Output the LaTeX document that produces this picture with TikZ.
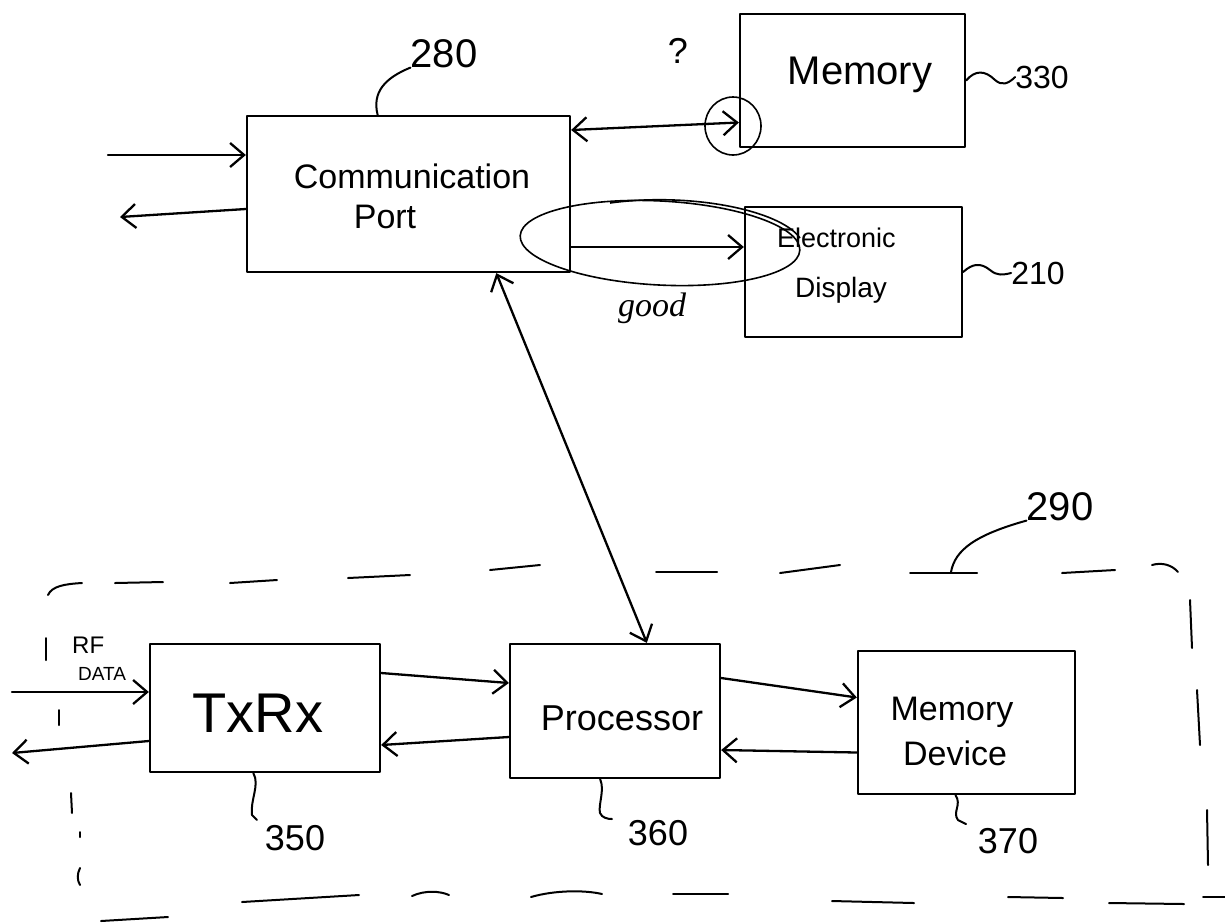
\documentclass[tikz,border=0pt]{standalone}
\usepackage{fontspec}
\setmainfont{Liberation Sans}
\newfontfamily\scrib{Liberation Serif}
\usetikzlibrary{arrows.meta,calc}
\begin{document}
\begin{tikzpicture}[x=1pt,y=-1pt,
  ink/.style={line width=2.3pt, line cap=round, line join=round},
  blk/.style={draw, ink, rectangle, inner sep=0pt},
  arr/.style={ink, -{Straight Barb[length=14pt,width=24pt]}},
  darr/.style={ink, {Straight Barb[length=14pt,width=24pt]}-{Straight Barb[length=14pt,width=24pt]}},
  txt/.style={inner sep=0pt, font=\fontsize{#1}{#1}\selectfont},
  lead/.style={line width=2pt, line cap=round},
  dashpiece/.style={line width=2pt, line cap=round},
  note/.style={line width=1.6pt}]
\useasboundingbox (0,0) rectangle (1225,922);

% ---------- blocks ----------
\node[blk, minimum width=323pt, minimum height=156pt] (comm)   at (408.5,194) {};
\node[blk, minimum width=225pt, minimum height=133pt] (mem)    at (852.5,80.5) {};
\node[blk, minimum width=217pt, minimum height=130pt] (disp)   at (853.5,272) {};
\node[blk, minimum width=230pt, minimum height=128pt] (txrx)   at (265,708) {};
\node[blk, minimum width=210pt, minimum height=134pt] (proc)   at (615,711) {};
\node[blk, minimum width=217pt, minimum height=143pt] (memdev) at (966.5,722.5) {};

% ---------- block texts ----------
\node[txt=34, anchor=base] (tcomm) at (412,188) {Communication};
\node[txt=34, anchor=base] (tport) at (385,228) {Port};
\node[txt=40, anchor=base] (tmem)  at (860,84) {Memory};
\node[txt=27, anchor=base west] (tel) at (777,247) {Electronic};
\node[txt=28, anchor=base west] (tdi) at (795,297) {Display};
\node[txt=56, anchor=base] (ttx) at (258,732) {TxRx};
\node[txt=36, anchor=base] (tproc) at (622,730) {Processor};
\node[txt=34, anchor=base] (tmd1) at (952,720) {Memory};
\node[txt=34, anchor=base] (tmd2) at (955,765) {Device};

% ---------- reference numerals ----------
\node[txt=40, anchor=base] (l280) at (444,67) {280};
\node[txt=32, anchor=base] (l330) at (1042,88) {330};
\node[txt=32, anchor=base] (l210) at (1038,284) {210};
\node[txt=40, anchor=base] (l290) at (1060,520) {290};
\node[txt=36, anchor=base] (l350) at (295,850) {350};
\node[txt=36, anchor=base] (l360) at (658,845) {360};
\node[txt=36, anchor=base] (l370) at (1008,853) {370};
\node[txt=36, anchor=base] (qm) at (678,63) {?};
\node[txt=24, anchor=base west] (rf) at (72,653) {RF};
\node[txt=19, anchor=base west] (data) at (78,680) {DATA};
\node[inner sep=0pt, font=\scrib\itshape\fontsize{34}{34}\selectfont] (good) at (652,308) {good};

% ---------- leaders ----------
\draw[lead] ($(comm.north west)!0.405!(comm.north east)$) .. controls (372,92) and (385,78) .. (l280.south west);
\draw[lead] (mem.east) .. controls (975,70) and (985,70) .. (995,80) .. controls (1002,86) and (1008,84) .. (l330.west);
\draw[lead] (disp.east) .. controls (972,264) and (980,262) .. (990,270) .. controls (997,276) and (1003,275) .. (l210.west);
\draw[lead] ($(txrx.south west)!0.45!(txrx.south east)$) .. controls (260,785) and (250,800) .. (252,815) -- (257,820);
\draw[lead] ($(proc.south west)!0.43!(proc.south east)$) .. controls (605,790) and (598,805) .. (600,813) .. controls (602,818) and (608,819) .. (612,819);
\draw[lead] ($(memdev.south west)!0.45!(memdev.south east)$) .. controls (962,805) and (952,812) .. (958,820) -- (966,824);
\draw[lead] (951,572) .. controls (955,550) and (975,535) .. (l290.south west);

% ---------- connectors ----------
\coordinate (cin)  at (108,155);
\coordinate (cout) at (120,217);
\draw[arr] (cin) -- (cin -| comm.west);
\draw[arr] ($(comm.west)+(0,15)$) -- (cout);
\draw[darr] ($(comm.east)+(0,-64)$) -- ($(mem.west)+(0,42)$);
\draw[arr] ($(comm.east)+(0,53)$) -- ($(disp.west)+(0,-25)$);
\draw[darr] ($(comm.south west)!0.77!(comm.south east)$) -- ($(proc.north west)!0.65!(proc.north east)$);

\coordinate (rfin)  at (12,692);
\coordinate (rfout) at (12,753);
\draw[arr] (rfin) -- (rfin -| txrx.west);
\draw[arr] ($(txrx.west)+(0,33)$) -- (rfout);
\draw[arr] ($(txrx.east)+(0,-35)$) -- ($(proc.west)+(0,-28)$);
\draw[arr] ($(proc.west)+(0,26)$) -- ($(txrx.east)+(0,37)$);
\draw[arr] ($(proc.east)+(0,-33)$) -- ($(memdev.west)+(0,-25)$);
\draw[arr] ($(memdev.west)+(0,30)$) -- ($(proc.east)+(0,39)$);

% ---------- annotations ----------
\draw[note] (733,126) ellipse [x radius=28pt, y radius=29pt];
\draw[note, rotate around={-3:(660,243)}] (660,243) ellipse [x radius=140pt, y radius=42pt];
\draw[note] (610,203) .. controls (690,192) and (780,210) .. (800,238);

% ---------- dashed boundary 290 ----------
\draw[dashpiece] (48,595) .. controls (52,586) and (65,584) .. (82,583);
\draw[dashpiece] (115,583) -- (163,582);
\draw[dashpiece] (230,583) -- (277,580);
\draw[dashpiece] (348,578) -- (410,575);
\draw[dashpiece] (490,570) -- (540,565);
\draw[dashpiece] (656,572) -- (717,572);
\draw[dashpiece] (780,573) -- (840,565);
\draw[dashpiece] (910,573) -- (977,573);
\draw[dashpiece] (1062,573) -- (1115,570);
\draw[dashpiece] (1152,565) .. controls (1162,562) and (1172,565) .. (1178,572);
\draw[dashpiece] (1190,600) -- (1192,648);
\draw[dashpiece] (1197,690) -- (1200,745);
\draw[dashpiece] (1207,810) -- (1208,865);
\draw[dashpiece] (242,902) -- (359,895);
\draw[dashpiece] (412,896) .. controls (425,890) and (440,891) .. (449,895);
\draw[dashpiece] (531,897) .. controls (555,890) and (585,890) .. (602,894);
\draw[dashpiece] (673,894) -- (728,894);
\draw[dashpiece] (832,901) -- (914,903);
\draw[dashpiece] (1008,897) -- (1063,898);
\draw[dashpiece] (1109,903) -- (1184,904);
\draw[dashpiece] (1203,897) -- (1225,897);
\draw[dashpiece] (101,921) -- (168,917);
\draw[dashpiece] (46,638) -- (46,660);
\draw[dashpiece] (59,710) -- (59,725);
\draw[dashpiece] (71,793) -- (72,813);
\draw[dashpiece] (80,832) -- (80,837);
\draw[dashpiece] (80,868) .. controls (77,874) and (77,880) .. (80,885);
\end{tikzpicture}
\end{document}
